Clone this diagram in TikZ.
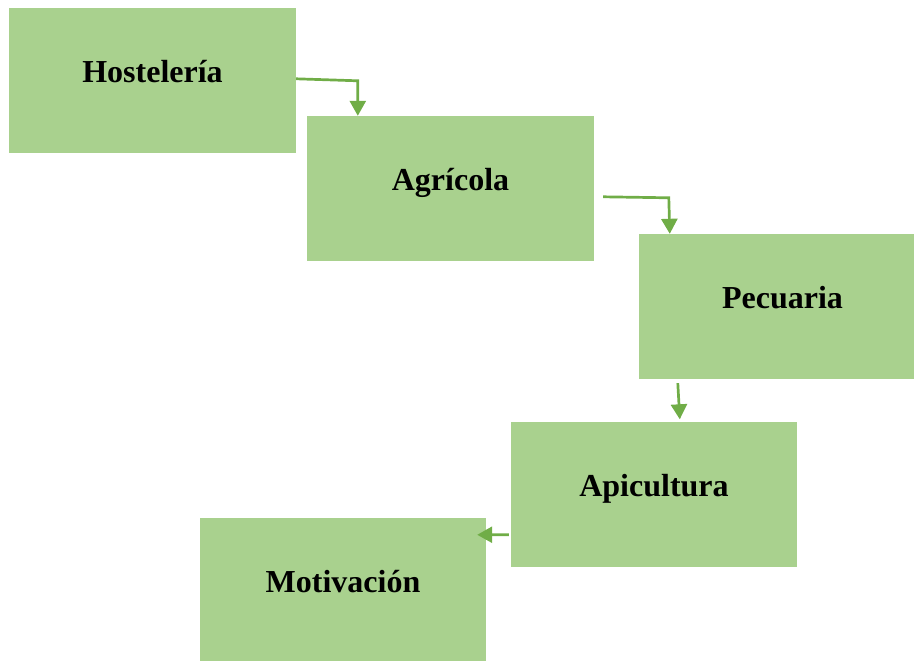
\documentclass[tikz,border=0pt]{standalone}
\usepackage{fontspec}
\setmainfont{Liberation Serif}
\usetikzlibrary{calc,arrows.meta}
\definecolor{boxfill}{HTML}{A9D18E}
\definecolor{arrgreen}{HTML}{70AD47}
\begin{document}
\begin{tikzpicture}[x=1pt,y=-1pt,
  stepbox/.style={rectangle,fill=boxfill,inner sep=0pt,minimum width=287pt,minimum height=145pt,
    text height=4pt,text depth=0pt,font=\bfseries\fontsize{32}{38}\selectfont},
  arr/.style={draw=arrgreen,line width=2.7pt,-{Triangle[width=16pt,length=15pt]}}]
\useasboundingbox (0,0) rectangle (914,661);
\node[stepbox] (h) at (152.5,80.5) {Hostelería};
\node[stepbox] (a) at (450.5,188.5) {Agrícola};
\node[stepbox] (p) at (782.5,306.5) {Pecuaria};
\node[stepbox,minimum width=286pt] (ap) at (654,494) {Apicultura};
\node[stepbox,minimum width=286pt] (m) at (343,590.5) {Motivación};
\draw[arr] ($(h.north east)+(0,71)$) -- ($(a.north west)+(51,-35)$) -- ($(a.north west)+(51,0)$);
\draw[arr] ($(a.north east)+(9,81)$) -- ($(p.north west)+(30,-36)$) -- ($(p.north west)+(31,0)$);
\draw[arr] ($(p.south west)+(39,4)$) -- ($(ap.north west)+(169,-2)$);
\draw[arr] ($(ap.south west)+(-2,-32)$) -- ($(m.north east)+(-9,17)$);
\end{tikzpicture}
\end{document}
